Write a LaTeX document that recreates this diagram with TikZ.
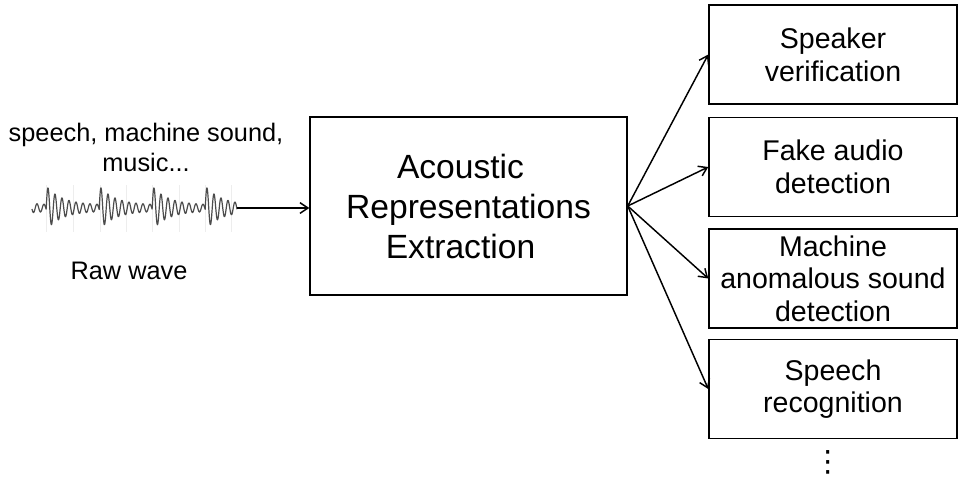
\documentclass[tikz,border=0pt]{standalone}
\usepackage{fontspec}
\setmainfont{Liberation Sans}
\newfontfamily\dvfont{DejaVu Sans}
\usetikzlibrary{arrows.meta}
\begin{document}
\begin{tikzpicture}[x=0.75pt,y=-0.75pt,
  declare function={wt(\u)=mod(\u+6.75,53); wa(\u)=3+19*exp(0-wt(\u)/16); wy(\u)=208-wa(\u)*sin(wt(\u)*51.43);},
  box/.style={draw,line width=1.1pt,inner sep=0pt,align=center},
  task/.style={box,minimum width=248*0.75pt,minimum height=99*0.75pt,font=\fontsize{21.4pt}{24.5pt}\selectfont},
  conn/.style={line width=1.1pt,-{Straight Barb[length=6pt,width=8pt,line width=1.1pt]}},
  lbl/.style={align=center,font=\fontsize{19pt}{22.5pt}\selectfont}]
\useasboundingbox (0,0) rectangle (958,479);
% main box
\node[box,minimum width=317*0.75pt,minimum height=178*0.75pt,font=\fontsize{25.2pt}{30pt}\selectfont] (main) at (468.5,206) {Acoustic\hspace*{12pt}\\Representations\hspace*{12pt}\\Extraction\hspace*{12pt}};
% task boxes
\node[task] (t1) at (833,54.5) {Speaker\\verification};
\node[task] (t2) at (833,167) {Fake audio\\detection};
\node[task] (t3) at (833,278.5) {Machine\\anomalous sound\\detection};
\node[task] (t4) at (833,389) {Speech\\recognition};
\node[inner sep=0pt,font=\dvfont\fontsize{22pt}{24pt}\selectfont] (dots) at (828,462) {⋮};
% left labels
\node[lbl] (src) at (146,147) {speech, machine sound,\\music...};
\node[lbl] (raw) at (129,271) {Raw wave};
% faint grid behind wave
\foreach \gx in {46,73,100,126,152,179,205,231}
  \draw[black!7,line width=0.4pt] (\gx,185) -- (\gx,232);
% waveform
\draw[black!70,line width=0.9pt,line join=round] plot[domain=32:237,samples=800,variable=\u]
  ({\u},{wy(\u)});
\coordinate (wend) at (237,208);
% connectors
\draw[conn] (wend) -- (main.west |- wend);
\foreach \t in {t1,t2,t3,t4}
  \draw[conn] (main.east) -- (\t.west);
\end{tikzpicture}
\end{document}
